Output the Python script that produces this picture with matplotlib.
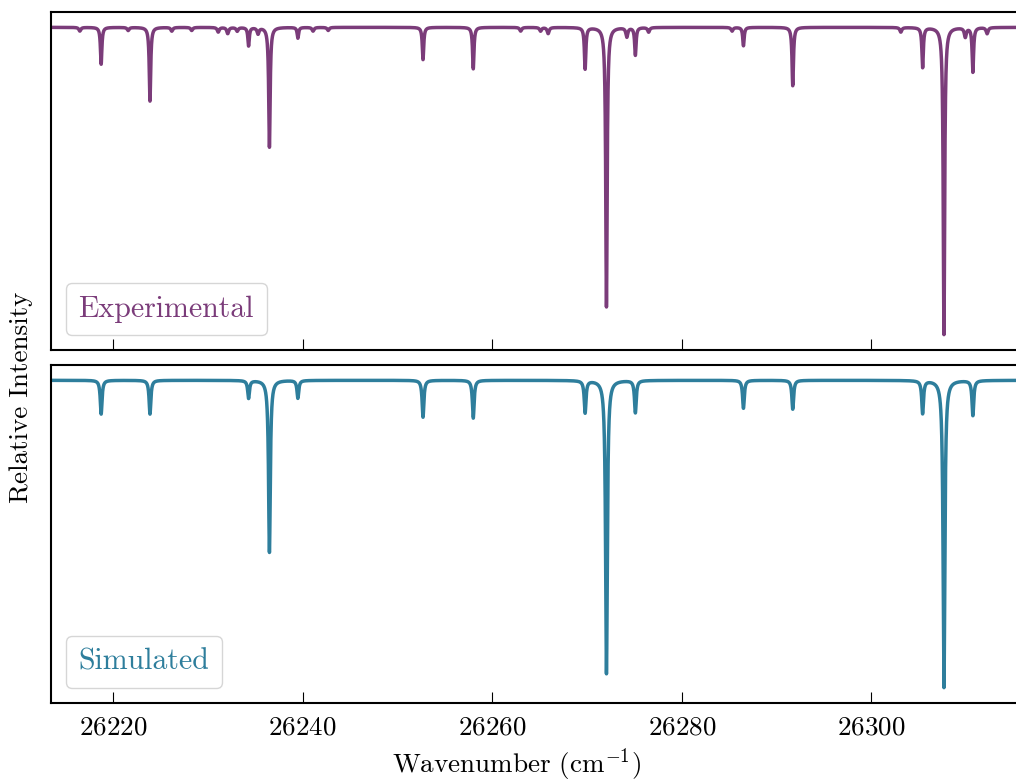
import numpy as np
import matplotlib
matplotlib.use("Agg")
import matplotlib.pyplot as plt

plt.rcParams["font.family"] = ["cmr10", "DejaVu Serif"]
plt.rcParams["mathtext.fontset"] = "cm"
plt.rcParams["axes.formatter.use_mathtext"] = True

# line centres (cm^-1) and relative depths of the absorption features
centres = [26218.75, 26223.9, 26234.3, 26236.5, 26239.5, 26252.7, 26258.0,
           26269.8, 26272.05, 26275.1, 26286.5, 26291.7, 26305.4, 26307.65,
           26310.7]
exp_depth = [0.12, 0.24, 0.06, 0.39, 0.035, 0.105, 0.135, 0.135, 0.91,
             0.09, 0.06, 0.19, 0.13, 1.0, 0.145]
sim_depth = [0.11, 0.11, 0.058, 0.56, 0.058, 0.12, 0.123, 0.105, 0.955,
             0.105, 0.091, 0.094, 0.107, 1.0, 0.114]

# weak structure on the measured baseline
weak_centres = [26216.5, 26221.6, 26226.2, 26228.3, 26231.1, 26232.1,
                26233.1, 26235.3, 26241.1, 26242.7, 26263.0, 26265.1,
                26265.9, 26274.2, 26276.5, 26285.3, 26303.1, 26309.9,
                26312.2]
weak_depth = [0.012, 0.01, 0.012, 0.01, 0.015, 0.02, 0.012, 0.02, 0.012,
              0.01, 0.012, 0.012, 0.02, 0.03, 0.015, 0.012, 0.015, 0.03,
              0.02]

xticks = [26220, 26240, 26260, 26280, 26300]
exp_color = "#7b3c7a"
sim_color = "#2e7e9c"


def lorentz_sum(x, pos, depth, hwhm):
    out = np.ones_like(x)
    for p, d in zip(pos, depth):
        out -= d * hwhm ** 2 / ((x - p) ** 2 + hwhm ** 2)
    return out


wn = np.arange(26210.0, 26320.0, 0.004)
experimental = lorentz_sum(wn, centres, exp_depth, 0.09)
experimental += lorentz_sum(wn, weak_centres, weak_depth, 0.12) - 1.0
simulated = lorentz_sum(wn, centres, sim_depth, 0.11)

fig = plt.figure(figsize=(10.16, 7.83), dpi=100)
ax_top = fig.add_axes([0.0502, 0.553, 0.954, 0.4317])
ax_bot = fig.add_axes([0.0502, 0.1022, 0.954, 0.4317])

for ax, y, col, name in [(ax_top, experimental, exp_color, "Experimental"),
                         (ax_bot, simulated, sim_color, "Simulated")]:
    ax.plot(wn, y, color=col, lw=2.5, label=name)
    ax.set_xlim(26213.46, 26315.7)
    ax.set_ylim(-0.05, 1.05)
    ax.set_yticks([])
    ax.set_xticks(xticks)
    ax.tick_params(axis="x", direction="in", length=8, width=0.8,
                   labelsize=19.5, pad=9)
    for s in ax.spines.values():
        s.set_linewidth(1.5)
    leg = ax.legend(loc="lower left", handlelength=0, handletextpad=0,
                    fontsize=21.5, labelcolor=col, framealpha=0.8,
                    borderpad=0.42)
    for h in leg.legend_handles:
        h.set_visible(False)

ax_top.tick_params(axis="x", labelbottom=False)

fig.text(0.508, 0.023, r"Wavenumber (cm$^{-1}$)", ha="center", va="center",
         fontsize=19.5)
fig.text(0.021, 0.492, "Relative Intensity", ha="center", va="center",
         rotation=90, fontsize=19.5)

fig.savefig("out.png", dpi=100)
